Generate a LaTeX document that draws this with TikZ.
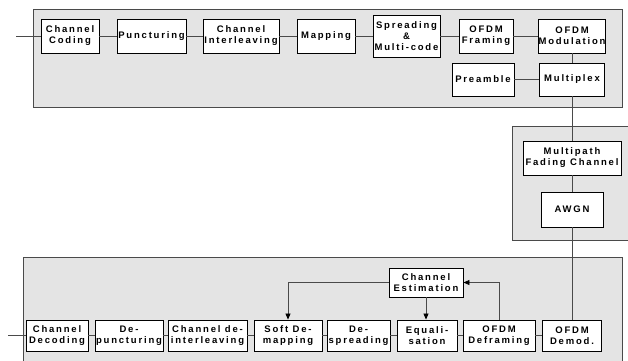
\documentclass[tikz,border=0pt]{standalone}
\usepackage{fontspec}
\setmainfont{Liberation Sans}[LetterSpace=19]
\usetikzlibrary{arrows.meta}
\definecolor{panel}{HTML}{E4E4E4}
\definecolor{edge}{HTML}{4A4A4A}
\tikzset{
  panelbox/.style={draw=edge, fill=panel, line width=1pt},
  blk/.style={draw=black, fill=white, line width=0.9pt, align=center, inner sep=0pt,
    font=\fontsize{9.5}{11}\selectfont\bfseries},
  link/.style={draw=edge, line width=0.8pt},
  arr/.style={link, -{Triangle[length=6pt,width=5pt,color=black]}}
}
\begin{document}
\begin{tikzpicture}[x=1pt,y=-1pt]
\useasboundingbox (0,0) rectangle (628,360);
\begin{scope}
\clip (0,0) rectangle (628,360);
% panels
\path[panelbox] (33,9) rectangle (622,107);
\path[panelbox] (512,126) rectangle (640,240);
\path[panelbox] (23,257) rectangle (622,380);
\end{scope}
% top row
\node[blk, minimum width=58, minimum height=34] (cc) at (70,36) {Channel\\Coding};
\node[blk, minimum width=69, minimum height=34] (punc) at (151.5,36) {Puncturing};
\node[blk, minimum width=76, minimum height=34] (cil) at (241,36) {Channel\\Interleaving};
\node[blk, minimum width=58, minimum height=34] (map) at (326,36) {Mapping};
\node[blk, minimum width=67, minimum height=42] (spr) at (406.5,36) {Spreading\\\&\\Multi-code};
\node[blk, minimum width=54, minimum height=34] (ofr) at (486,36) {OFDM\\Framing};
\node[blk, minimum width=66, minimum height=34] (omod) at (572,36) {OFDM\\Modulation};
\node[blk, minimum width=62, minimum height=33] (pre) at (483,79.5) {Preamble};
\node[blk, minimum width=65, minimum height=33] (mux) at (572,79.5) {Multiplex};
% channel
\node[blk, minimum width=98, minimum height=34] (mfc) at (572,158) {Multipath\\Fading Channel};
\node[blk, minimum width=62, minimum height=35] (awgn) at (572,209.5) {AWGN};
% bottom row
\node[blk, minimum width=62, minimum height=31] (cd) at (57,335.5) {Channel\\Decoding};
\node[blk, minimum width=68, minimum height=31] (dp) at (129,335.5) {De-\\puncturing};
\node[blk, minimum width=79, minimum height=31] (cdi) at (207.5,335.5) {Channel de-\\interleaving};
\node[blk, minimum width=68, minimum height=31] (sdm) at (288,335.5) {Soft De-\\mapping};
\node[blk, minimum width=63, minimum height=31] (dsp) at (358.5,335.5) {De-\\spreading};
\node[blk, minimum width=60, minimum height=31] (eq) at (427,335.5) {Equali-\\sation};
\node[blk, minimum width=72, minimum height=31] (odf) at (499,335.5) {OFDM\\Deframing};
\node[blk, minimum width=59, minimum height=31] (odm) at (572,335.5) {OFDM\\Demod.};
\node[blk, minimum width=74, minimum height=29] (ce) at (426,282.5) {Channel\\Estimation};
% free ends
\coordinate (inT) at (16,36);
\coordinate (outB) at (8,335.5);
% top connectors
\draw[link] (inT) -- (cc.west);
\draw[link] (cc) -- (punc);
\draw[link] (punc) -- (cil);
\draw[link] (cil) -- (map);
\draw[link] (map) -- (spr);
\draw[link] (spr) -- (ofr);
\draw[link] (ofr) -- (omod);
\draw[link] (omod) -- (mux);
\draw[link] (pre) -- (mux);
\draw[link] (mux) -- (mfc);
\draw[link] (mfc) -- (awgn);
\draw[link] (awgn) -- (odm);
% bottom connectors
\draw[link] (odm) -- (odf);
\draw[link] (odf) -- (eq);
\draw[link] (eq) -- (dsp);
\draw[link] (dsp) -- (sdm);
\draw[link] (sdm) -- (cdi);
\draw[link] (cdi) -- (dp);
\draw[link] (dp) -- (cd);
\draw[link] (cd.west) -- (outB);
\draw[arr] (odf.north) |- (ce.east);
\draw[arr] (ce.south) -- (ce.south |- eq.north);
\draw[arr] (ce.west) -| (sdm.north);
\end{tikzpicture}
\end{document}
